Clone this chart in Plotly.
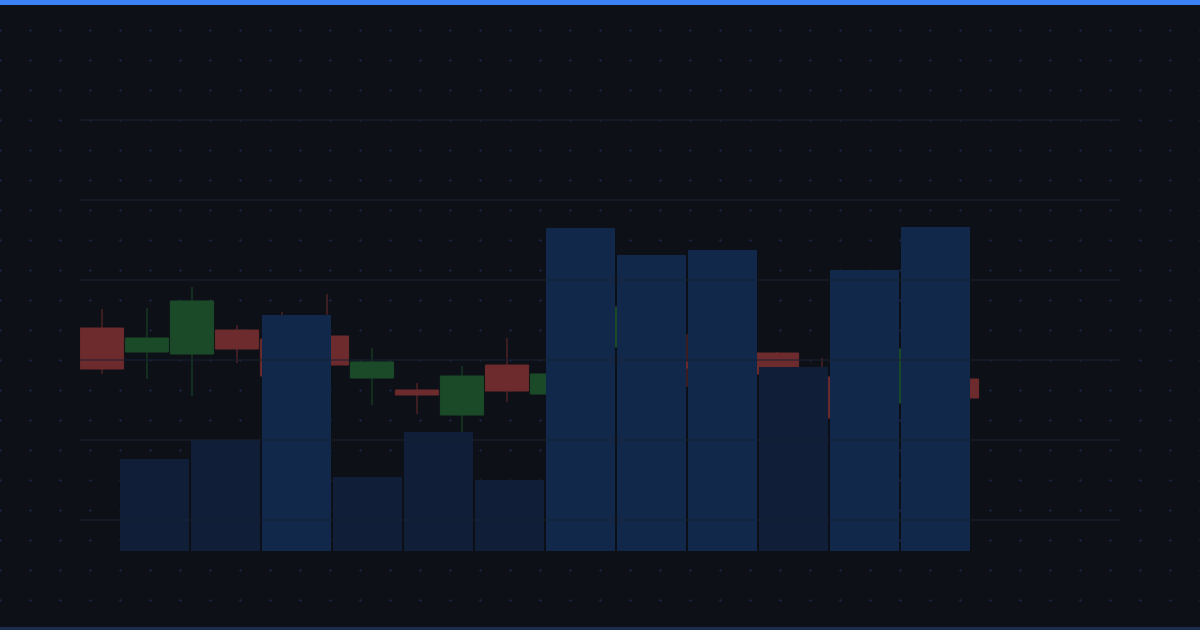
import base64
import plotly.graph_objects as go

# candles (price scale)
candle_x = list(range(20))
opens = [104.8, 104.2, 104.15, 104.75, 104.525, 104.6, 103.55, 103.25, 102.625, 103.875,
         103.15, 104.325, 104.9, 103.95, 103.8, 104.175, 103.575, 102.8, 102.925, 103.525]
highs = [105.275, 105.3, 105.825, 104.875, 105.2, 105.65, 104.3, 103.425, 103.85, 104.55,
         103.9, 105.5, 105.3, 104.65, 104.4, 104.2, 104.05, 103.9, 104.5, 103.7]
lows = [103.65, 103.525, 103.1, 103.925, 103.5, 103.8, 102.875, 102.65, 102.2, 102.95,
        103.0, 104.1, 103.9, 103.325, 103.6, 103.5, 102.4, 102.6, 102.8, 102.9]
closes = [103.775, 104.55, 105.475, 104.275, 103.6, 103.875, 103.95, 103.125, 103.6, 103.225,
          103.65, 105.325, 104.1, 103.8, 104.2, 103.65, 102.55, 103.6, 104.275, 103.05]

# volume bars
volume_x = list(range(12))
volumes = [920, 1110, 2360, 740, 1190, 710, 3230, 2960, 3010, 1840, 2810, 3240]

price_ticks = [100, 102, 104, 106, 108, 110]

BG = "#0d1017"
GRID = "#182133"
UP = "#1b4a29"
DOWN = "#6d2b2d"
VOL_HIGH = "#12284b"
VOL_LOW = "#101e37"

W, H = 1200, 630
L, R, T, B = 80, 80, 100, 79
PW, PH = W - L - R, H - T - B


def px_x(px):
    return (px - L) / PW


def px_y(py):
    return (H - B - py) / PH


def pattern_svg():
    svg = (
        '<svg xmlns="http://www.w3.org/2000/svg" width="%d" height="%d">'
        '<defs><pattern id="p" x="-15" y="-15" width="30" height="30" patternUnits="userSpaceOnUse">'
        '<path d="M14 15.5H17M15.5 14V17" stroke="#16233b" stroke-width="1"/>'
        '</pattern></defs>'
        '<rect width="100%%" height="100%%" fill="url(#p)"/></svg>' % (W, H)
    )
    return "data:image/svg+xml;base64," + base64.b64encode(svg.encode()).decode()


def plot_chart():
    avg = sum(volumes) / len(volumes)
    vol_colors = [VOL_HIGH if v > avg else VOL_LOW for v in volumes]

    fig = go.Figure()
    fig.add_trace(go.Candlestick(
        x=candle_x, open=opens, high=highs, low=lows, close=closes,
        increasing=dict(line=dict(color=UP, width=1), fillcolor=UP),
        decreasing=dict(line=dict(color=DOWN, width=1), fillcolor=DOWN),
        whiskerwidth=0, xaxis="x", yaxis="y", hoverinfo="skip"))
    fig.add_trace(go.Bar(
        x=volume_x, y=volumes, marker_color=vol_colors, marker_line_width=0,
        xaxis="x2", yaxis="y2", hoverinfo="skip"))

    shapes = []
    for t in price_ticks:
        shapes.append(dict(type="line", xref="paper", yref="y", x0=0, x1=1, y0=t, y1=t,
                           line=dict(color=GRID, width=1), layer="above"))
    # top accent bar and bottom edge
    shapes.append(dict(type="rect", xref="paper", yref="paper", x0=px_x(0), x1=px_x(W),
                       y0=px_y(5), y1=px_y(0), fillcolor="#3b82f6", line_width=0, layer="above"))
    shapes.append(dict(type="rect", xref="paper", yref="paper", x0=px_x(0), x1=px_x(W),
                       y0=px_y(H), y1=px_y(627), fillcolor="#1a2d4d", line_width=0, layer="above"))

    fig.update_layout(
        width=W, height=H,
        margin=dict(l=L, r=R, t=T, b=B),
        paper_bgcolor=BG, plot_bgcolor="rgba(0,0,0,0)",
        showlegend=False, boxgap=0.04, boxgroupgap=0, bargap=0.028,
        xaxis=dict(range=[(L - 102) / 45, (W - R - 102) / 45], visible=False,
                   rangeslider=dict(visible=False), fixedrange=True),
        yaxis=dict(range=[99.225, 110.5], visible=False, fixedrange=True),
        xaxis2=dict(range=[(L - 154.5) / 71, (W - R - 154.5) / 71], overlaying="x",
                    visible=False, fixedrange=True),
        yaxis2=dict(range=[0, 4510], overlaying="y", visible=False, fixedrange=True),
        shapes=shapes,
        images=[dict(source=pattern_svg(), xref="paper", yref="paper",
                     x=px_x(0), y=px_y(0), sizex=W / PW, sizey=H / PH,
                     xanchor="left", yanchor="top", sizing="stretch", layer="below")])
    fig.write_html("out.html", config={"displayModeBar": False},
                   post_script="document.body.style.margin='0';")


def main():
    plot_chart()


if __name__ == "__main__":
    main()
